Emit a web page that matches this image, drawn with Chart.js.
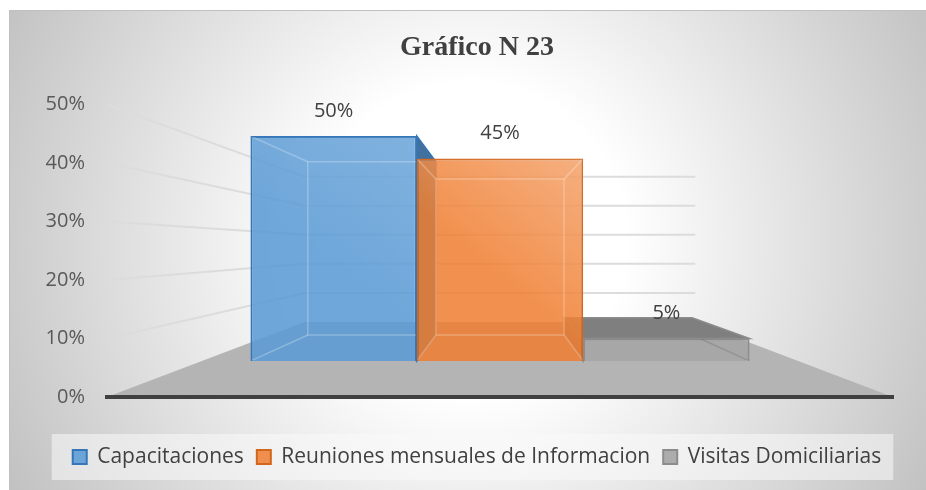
<!DOCTYPE html>
<html>
<head>
<meta charset="utf-8">
<script src="https://cdn.jsdelivr.net/npm/chart.js@4.4.1/dist/chart.umd.min.js"></script>
<style>
  html, body { margin: 0; padding: 0; background: #fff; }
  canvas { display: block; }
</style>
</head>
<body>
<canvas id="myChart" width="926" height="490"></canvas>
<script>
// data
const categories = [''];
const seriesNames = ['Capacitaciones', 'Reuniones mensuales de Informacion', 'Visitas Domiciliarias'];
const seriesValues = [0.50, 0.45, 0.05];
const axisMin = 0;
const axisMax = 0.5;
const axisStep = 0.1;

// styles
const fillColors = ['rgba(91,155,213,0.88)', 'rgba(240,126,48,0.85)', 'rgba(166,166,166,0.92)'];
const lineColors = ['#3476b8', '#d2661c', '#8c8c8c'];
const sideColors = ['#41719c', '#b85a1a', '#7f7f7f'];
const innerColors = ['rgba(255,255,255,0.25)', 'rgba(255,255,255,0.25)', 'rgba(0,0,0,0.12)'];
const shineAlpha = [0.12, 0.28, 0];

// fake 3d: eye level on the front wall, depth of back wall and of the bars' back faces
const EYE = 0.255, WALL = 0.497, DEPTH = 0.77;

function pct(v) { return Math.round(v * 100) + '%'; }

function vanish(chart) {
  const a = chart.chartArea;
  return {x: (a.left + a.right) / 2, y: chart.scales.y.getPixelForValue(EYE)};
}
function proj(vp, p, k) {
  return {x: vp.x + k * (p.x - vp.x), y: vp.y + k * (p.y - vp.y)};
}
function poly(ctx, pts) {
  ctx.beginPath();
  ctx.moveTo(pts[0].x, pts[0].y);
  for (let i = 1; i < pts.length; i++) ctx.lineTo(pts[i].x, pts[i].y);
  ctx.closePath();
}
function boxOf(chart, i, vp) {
  const el = chart.getDatasetMeta(i).data[0];
  const p = el.getProps(['x', 'y', 'base', 'width'], true);
  const l = p.x - p.width / 2, r = p.x + p.width / 2;
  const F = [{x: l, y: p.y}, {x: r, y: p.y}, {x: r, y: p.base}, {x: l, y: p.base}];
  const B = F.map(q => proj(vp, q, DEPTH));
  return {F, B, l, r, top: p.y, base: p.base, cx: p.x};
}

const bgPlugin = {
  id: 'bg',
  beforeDraw(chart) {
    const {ctx, width, height} = chart;
    ctx.save();
    ctx.fillStyle = '#fff';
    ctx.fillRect(0, 0, width, height);
    const g = ctx.createRadialGradient(470, 240, 0, 470, 240, 520);
    g.addColorStop(0, '#ffffff');
    g.addColorStop(0.3, '#ffffff');
    g.addColorStop(1, '#c2c2c2');
    ctx.fillStyle = g;
    ctx.fillRect(9, 10, width - 9, height - 10);
    ctx.strokeStyle = '#c0c0c0';
    ctx.lineWidth = 1;
    ctx.strokeRect(9.5, 10.5, width, height);

    // legend panel
    const lg = chart.legend;
    const pad = lg.options.labels.padding;
    const fs = lg.options.labels.font.size;
    const cw = lg.lineWidths[0] - pad;
    const cx = (lg.left + lg.right) / 2;
    const cy = lg.top + pad + fs / 2;
    ctx.fillStyle = 'rgba(250,250,250,0.55)';
    ctx.fillRect(cx - cw / 2 - 21, cy - 23, cw + 33, 46);
    ctx.restore();
  }
};

const scenePlugin = {
  id: 'scene',
  beforeDatasetsDraw(chart) {
    const {ctx, chartArea: a} = chart;
    const ys = chart.scales.y;
    const vp = vanish(chart);
    const y0 = ys.getPixelForValue(axisMin);
    ctx.save();

    // floor
    const fl = {x: a.left, y: y0}, fr = {x: a.right, y: y0};
    poly(ctx, [fl, fr, proj(vp, fr, WALL), proj(vp, fl, WALL)]);
    ctx.fillStyle = '#b4b4b4';
    ctx.fill();

    // side wall + back wall gridlines
    ctx.strokeStyle = '#dcdcdc';
    ctx.lineWidth = 2;
    ys.ticks.forEach(t => {
      if (t.value <= axisMin) return;
      const p = {x: a.left, y: ys.getPixelForValue(t.value)};
      const b = proj(vp, p, WALL);
      const e = proj(vp, {x: a.right, y: p.y}, WALL);
      ctx.beginPath();
      ctx.moveTo(p.x, p.y);
      ctx.lineTo(b.x, b.y);
      ctx.lineTo(e.x, e.y);
      ctx.stroke();
    });

    // outer faces of the boxes
    seriesValues.forEach((v, i) => {
      const b = boxOf(chart, i, vp);
      const {F, B} = b;
      const faces = [];
      if (b.top > vp.y) faces.push([F[0], F[1], B[1], B[0]]);
      if (b.r < vp.x) faces.push([F[1], F[2], B[2], B[1]]);
      if (b.base < vp.y) faces.push([F[2], F[3], B[3], B[2]]);
      if (b.l > vp.x) faces.push([F[3], F[0], B[0], B[3]]);
      faces.forEach(f => {
        poly(ctx, f);
        ctx.fillStyle = sideColors[i];
        ctx.fill();
        ctx.strokeStyle = lineColors[i];
        ctx.lineWidth = 1.5;
        ctx.stroke();
      });
    });
    ctx.restore();
  },
  afterDatasetsDraw(chart) {
    const {ctx} = chart;
    const vp = vanish(chart);
    ctx.save();
    seriesValues.forEach((v, i) => {
      const b = boxOf(chart, i, vp);
      const {F, B} = b;
      ctx.save();
      ctx.beginPath();
      ctx.rect(b.l + 1, b.top + 1, b.r - b.l - 2, b.base - b.top - 2);
      ctx.clip();
      if (shineAlpha[i] > 0) {
        const g = ctx.createLinearGradient(b.l, b.base, b.r, b.top);
        g.addColorStop(0, 'rgba(255,255,255,0)');
        g.addColorStop(0.45, 'rgba(255,255,255,0)');
        g.addColorStop(1, 'rgba(255,255,255,' + shineAlpha[i] + ')');
        ctx.fillStyle = g;
        ctx.fillRect(b.l, b.top, b.r - b.l, b.base - b.top);
      }
      ctx.strokeStyle = innerColors[i];
      ctx.lineWidth = 1.5;
      poly(ctx, B);
      ctx.stroke();
      for (let k = 0; k < 4; k++) {
        ctx.beginPath();
        ctx.moveTo(F[k].x, F[k].y);
        ctx.lineTo(B[k].x, B[k].y);
        ctx.stroke();
      }
      ctx.restore();

      ctx.fillStyle = '#404040';
      ctx.font = '20px "Open Sans"';
      ctx.textAlign = 'center';
      ctx.textBaseline = 'middle';
      ctx.fillText(pct(v), b.cx, b.top - 25);
    });
    ctx.restore();
  }
};

const datasets = seriesNames.map((name, i) => ({
  label: name,
  data: [seriesValues[i]],
  yAxisID: 'yb',
  backgroundColor: fillColors[i],
  borderColor: lineColors[i],
  borderWidth: 2,
  barPercentage: 1,
  categoryPercentage: 0.635
}));

new Chart(document.getElementById('myChart'), {
  type: 'bar',
  data: {labels: categories, datasets: datasets},
  options: {
    responsive: false,
    animation: false,
    devicePixelRatio: 1,
    layout: {padding: {top: 10, left: 28, right: 0, bottom: 12.5}},
    plugins: {
      title: {
        display: true,
        text: 'Gráfico N 23',
        color: '#404040',
        font: {family: '"Liberation Serif"', size: 28, weight: 'bold'},
        padding: {top: 21, bottom: 40}
      },
      legend: {
        position: 'bottom',
        labels: {
          color: '#404040',
          font: {family: '"Open Sans"', size: 21},
          boxWidth: 14,
          boxHeight: 14,
          padding: 13
        }
      },
      tooltip: {enabled: false}
    },
    scales: {
      x: {
        display: true,
        ticks: {display: false},
        grid: {display: false, drawTicks: false},
        border: {display: true, color: '#404040', width: 4, z: 1},
        afterFit(s) { s.height = 36.5; }
      },
      y: {
        type: 'linear',
        position: 'left',
        min: axisMin,
        max: axisMax,
        ticks: {
          stepSize: axisStep,
          padding: 22,
          color: '#595959',
          font: {family: '"Open Sans"', size: 20},
          callback: v => pct(v)
        },
        grid: {display: false, drawTicks: false},
        border: {display: false},
        afterFit(s) { s.width = 79; }
      },
      yb: {
        type: 'linear',
        position: 'right',
        min: -0.08,
        max: 0.57,
        ticks: {display: false},
        grid: {display: false, drawTicks: false},
        border: {display: false},
        afterFit(s) { s.width = 33; }
      }
    }
  },
  plugins: [bgPlugin, scenePlugin]
});
</script>
</body>
</html>
